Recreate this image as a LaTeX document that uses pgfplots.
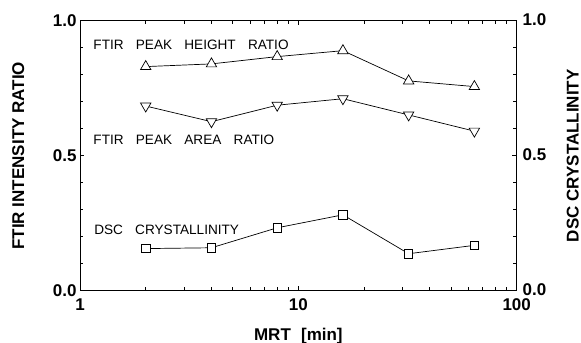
\documentclass[border=0pt]{standalone}
\usepackage{pgfplots}
\pgfplotsset{compat=1.18}
\usepackage{fontspec}
\setmainfont{Liberation Sans}
\usetikzlibrary{calc}

% Ratios vs. mean residence time
\pgfplotstableread{
mrt  height area  dsc
2    0.830  0.684 0.156
4    0.840  0.626 0.159
8    0.867  0.687 0.233
16   0.889  0.711 0.281
32   0.777  0.651 0.137
64   0.756  0.591 0.168
}\ratios

\newcommand{\ticklab}{\fontsize{17bp}{19bp}\selectfont\bfseries}
\newcommand{\axlab}{\fontsize{17bp}{19bp}\selectfont\bfseries}
\newcommand{\annot}{\fontsize{13.6bp}{15bp}\selectfont}
\newcommand{\gap}{\hspace{0.9em}}

\begin{document}
\begin{tikzpicture}
\begin{axis}[name=ax,
  scale only axis,
  width=436.7bp, height=270bp,
  xmode=log, xmin=1, xmax=100,
  ymin=0, ymax=1,
  axis line style={line width=0.9bp},
  tick style={line width=0.8bp, black},
  tick align=inside,
  major tick length=4.5bp,
  minor tick length=3.5bp,
  ytick={0,0.5,1},
  yticklabels={0.0,0.5,1.0},
  minor ytick={0.1,0.2,0.3,0.4,0.6,0.7,0.8,0.9},
  yticklabel style={font=\ticklab},
  xticklabel style={font=\ticklab, inner sep=1bp, yshift=-6.7bp},
  ytick pos=left,
  xtick={1,10,100},
  xticklabels={1,10,100},
]
  \addplot[black, line width=0.7bp, mark=triangle*,
    mark size=6bp, mark options={fill=white, line width=0.7bp}]
    table[x=mrt, y=height] {\ratios};
  \addplot[black, line width=0.7bp, mark=triangle*,
    mark size=6bp, mark options={fill=white, line width=0.7bp, rotate=180}]
    table[x=mrt, y=area] {\ratios};
  \addplot[black, line width=0.7bp, mark=square*,
    mark size=4.2bp, mark options={fill=white, line width=0.7bp}]
    table[x=mrt, y=dsc] {\ratios};

  \node[anchor=west, inner sep=0pt, font=\annot] at (axis cs:1.15,0.911)
    {FTIR\gap PEAK\gap HEIGHT\gap RATIO};
  \node[anchor=west, inner sep=0pt, font=\annot] at (axis cs:1.15,0.560)
    {FTIR\gap PEAK\gap AREA\gap RATIO};
  \node[anchor=west, inner sep=0pt, font=\annot] at (axis cs:1.16,0.227)
    {DSC\gap CRYSTALLINITY};
\end{axis}
\begin{axis}[
  scale only axis,
  width=436.7bp, height=270bp,
  xmode=log, xmin=1, xmax=100,
  ymin=0, ymax=1,
  axis line style={line width=0.9bp},
  tick style={line width=0.8bp, black},
  tick align=inside,
  major tick length=4.5bp,
  minor tick length=3.5bp,
  ytick={0,0.5,1},
  yticklabels={0.0,0.5,1.0},
  minor ytick={0.1,0.2,0.3,0.4,0.6,0.7,0.8,0.9},
  yticklabel style={font=\ticklab, inner sep=1bp, xshift=4.7bp, yshift=1bp},
  axis y line*=right,
  hide x axis,
]
  \addplot[draw=none] coordinates {(2,0)};
\end{axis}

\node[rotate=90, font=\axlab] at ($(ax.west)+(-61.7bp,0)$) {FTIR INTENSITY RATIO};
\node[rotate=90, font=\axlab] at ($(ax.east)+(56bp,0)$) {DSC CRYSTALLINITY};
\node[anchor=base, font=\axlab] at ($(ax.south)+(0,-49.5bp)$) {MRT\hspace{0.6em}[min]};

\pgfresetboundingbox
\path ($(ax.south west)+(-80bp,-52.3bp)$) rectangle ($(ax.north east)+(64.3bp,20.7bp)$);
\end{tikzpicture}
\end{document}
